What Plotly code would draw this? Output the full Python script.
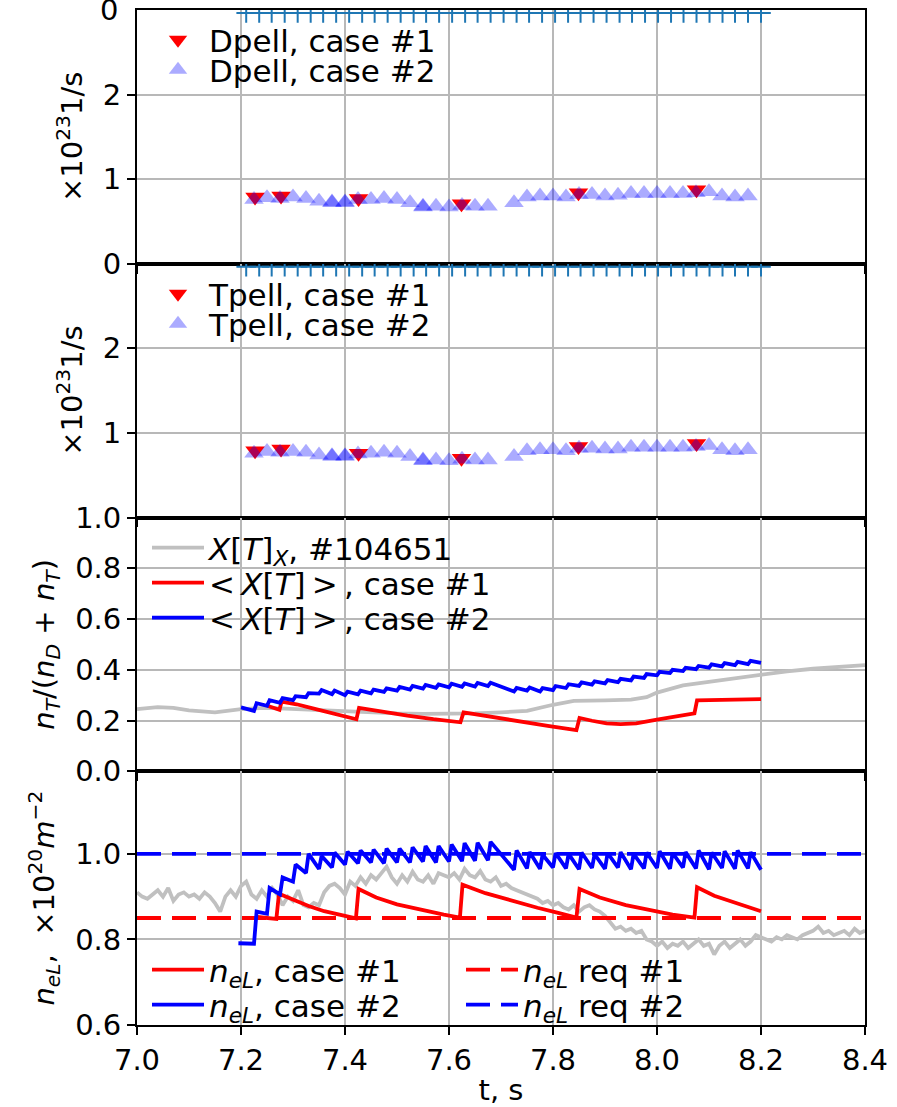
import plotly.graph_objects as go
from plotly.subplots import make_subplots

# ---------------- data ----------------
x_ticks = [7.0, 7.2, 7.4, 7.6, 7.8, 8.0, 8.2, 8.4]

# pellet rates (x10^23 1/s), case #1 (red, down-triangles)
dpell1_t = [7.227, 7.277, 7.426, 7.624, 7.849, 8.076]
dpell1_v = [0.79, 0.80, 0.77, 0.71, 0.84, 0.875]
# case #2 (blue, up-triangles)
dpell2_t = [7.225, 7.250, 7.275, 7.300, 7.325, 7.350, 7.375, 7.375, 7.400, 7.400,
            7.425, 7.450, 7.475, 7.500, 7.525, 7.550, 7.550, 7.575, 7.600, 7.625,
            7.650, 7.675, 7.725, 7.750, 7.775, 7.800, 7.825, 7.850, 7.875, 7.900,
            7.925, 7.950, 7.975, 8.000, 8.025, 8.050, 8.075, 8.100, 8.125, 8.150, 8.175]
dpell2_v = [0.76, 0.78, 0.77, 0.79, 0.77, 0.74, 0.72, 0.73, 0.72, 0.73,
            0.76, 0.76, 0.77, 0.76, 0.72, 0.67, 0.68, 0.68, 0.67, 0.69,
            0.68, 0.68, 0.72, 0.79, 0.80, 0.80, 0.79, 0.82, 0.82, 0.80,
            0.81, 0.83, 0.83, 0.83, 0.83, 0.83, 0.84, 0.85, 0.80, 0.79, 0.80]
tpell1_t = [7.227, 7.277, 7.426, 7.624, 7.849, 8.076]
tpell1_v = [0.79, 0.81, 0.76, 0.70, 0.84, 0.875]
tpell2_t = list(dpell2_t)
tpell2_v = [0.76, 0.78, 0.77, 0.78, 0.77, 0.74, 0.72, 0.73, 0.72, 0.73,
            0.75, 0.76, 0.77, 0.76, 0.72, 0.67, 0.68, 0.68, 0.67, 0.69,
            0.68, 0.68, 0.72, 0.79, 0.80, 0.80, 0.79, 0.82, 0.82, 0.81,
            0.81, 0.83, 0.83, 0.83, 0.83, 0.83, 0.84, 0.85, 0.80, 0.79, 0.80]

# off-scale pellet event markers (drawn at the top edge)
plus_t = [7.210, 7.235, 7.259, 7.284, 7.309, 7.334, 7.358, 7.383, 7.408, 7.433,
          7.457, 7.482, 7.507, 7.532, 7.556, 7.581, 7.606, 7.631, 7.655, 7.680,
          7.705, 7.730, 7.754, 7.779, 7.804, 7.829, 7.853, 7.878, 7.903, 7.928,
          7.952, 7.977, 8.002, 8.027, 8.051, 8.076, 8.101, 8.126, 8.150, 8.175, 8.200]
plus_level = 2.965

# tritium fraction
xt_exp_t = [7.00, 7.04, 7.07, 7.10, 7.15, 7.20, 7.25, 7.30, 7.35, 7.40, 7.45, 7.50,
            7.55, 7.60, 7.65, 7.70, 7.75, 7.80, 7.84, 7.90, 7.95, 7.98, 8.00, 8.05,
            8.10, 8.15, 8.20, 8.25, 8.30, 8.35, 8.40]
xt_exp_v = [0.245, 0.253, 0.250, 0.240, 0.232, 0.245, 0.250, 0.245, 0.240, 0.235,
            0.232, 0.228, 0.226, 0.226, 0.228, 0.232, 0.238, 0.262, 0.277, 0.279,
            0.282, 0.292, 0.310, 0.338, 0.352, 0.366, 0.382, 0.394, 0.404, 0.411, 0.418]

xt1_t = [7.252, 7.274, 7.278, 7.307, 7.340, 7.371, 7.400, 7.422, 7.427, 7.470, 7.520,
         7.570, 7.622, 7.628, 7.680, 7.730, 7.790, 7.845, 7.851, 7.875, 7.903, 7.930,
         7.960, 8.000, 8.040, 8.072, 8.077, 8.120, 8.160, 8.200]
xt1_v = [0.257, 0.242, 0.274, 0.264, 0.247, 0.231, 0.217, 0.205, 0.250, 0.235, 0.219,
         0.205, 0.193, 0.232, 0.214, 0.197, 0.179, 0.162, 0.210, 0.199, 0.189, 0.186,
         0.189, 0.203, 0.217, 0.228, 0.279, 0.281, 0.283, 0.284]

# case #2: pellet times with value just before / after each pellet
pel2_t = [7.225, 7.250, 7.275, 7.300, 7.325, 7.350, 7.375, 7.400, 7.425, 7.450,
          7.475, 7.500, 7.525, 7.550, 7.575, 7.600, 7.625, 7.650, 7.675, 7.725,
          7.750, 7.775, 7.800, 7.825, 7.850, 7.875, 7.900, 7.925, 7.950, 7.975,
          8.000, 8.025, 8.050, 8.075, 8.100, 8.125, 8.150, 8.175]
xt2_start = (7.200, 0.252)
xt2_pre = [0.238, 0.258, 0.270, 0.280, 0.292, 0.306, 0.304, 0.300, 0.303, 0.307,
           0.313, 0.318, 0.322, 0.326, 0.329, 0.331, 0.333, 0.334, 0.336, 0.314,
           0.318, 0.314, 0.320, 0.328, 0.336, 0.341, 0.346, 0.351, 0.358, 0.368,
           0.378, 0.387, 0.395, 0.402, 0.408, 0.413, 0.418, 0.422]
xt2_post = [0.268, 0.280, 0.288, 0.296, 0.308, 0.320, 0.318, 0.314, 0.318, 0.322,
            0.327, 0.332, 0.336, 0.340, 0.342, 0.345, 0.346, 0.348, 0.349, 0.328,
            0.330, 0.328, 0.336, 0.343, 0.350, 0.354, 0.359, 0.364, 0.373, 0.383,
            0.392, 0.400, 0.408, 0.415, 0.421, 0.426, 0.431, 0.435]
xt2_end = (8.200, 0.427)

# line-averaged density
nel_exp_t = [round(7.0 + 0.01 * i, 2) for i in range(141)]
nel_exp_v = [0.910, 0.900, 0.895, 0.905, 0.915, 0.900, 0.920, 0.890, 0.905, 0.910,
             0.900, 0.905, 0.895, 0.910, 0.900, 0.885, 0.865, 0.900, 0.915, 0.900,
             0.925, 0.935, 0.905, 0.895, 0.915, 0.900, 0.920, 0.905, 0.880, 0.900,
             0.890, 0.915, 0.880, 0.875, 0.885, 0.880, 0.910, 0.925, 0.930, 0.920,
             0.905, 0.935, 0.925, 0.945, 0.930, 0.950, 0.940, 0.955, 0.970, 0.945,
             0.930, 0.950, 0.935, 0.958, 0.940, 0.935, 0.950, 0.930, 0.955, 0.950,
             0.945, 0.955, 0.940, 0.965, 0.950, 0.945, 0.960, 0.940, 0.935, 0.945,
             0.925, 0.930, 0.920, 0.915, 0.910, 0.905, 0.900, 0.895, 0.885, 0.890,
             0.880, 0.885, 0.875, 0.870, 0.880, 0.865, 0.875, 0.880, 0.870, 0.865,
             0.855, 0.840, 0.825, 0.830, 0.820, 0.825, 0.815, 0.820, 0.800, 0.795,
             0.785, 0.795, 0.780, 0.790, 0.785, 0.795, 0.780, 0.790, 0.800, 0.785,
             0.790, 0.765, 0.785, 0.795, 0.780, 0.790, 0.800, 0.785, 0.795, 0.810,
             0.805, 0.800, 0.795, 0.805, 0.800, 0.810, 0.805, 0.800, 0.810, 0.815,
             0.820, 0.830, 0.815, 0.820, 0.810, 0.815, 0.820, 0.810, 0.825, 0.815,
             0.820]

nel1_t = [7.227, 7.268, 7.273, 7.300, 7.330, 7.360, 7.390, 7.421, 7.426, 7.460, 7.500,
          7.550, 7.590, 7.621, 7.626, 7.670, 7.720, 7.770, 7.810, 7.845, 7.851, 7.890,
          7.940, 7.990, 8.030, 8.072, 8.077, 8.110, 8.150, 8.200]
nel1_v = [0.853, 0.848, 0.907, 0.893, 0.878, 0.866, 0.857, 0.849, 0.918, 0.898, 0.882,
          0.868, 0.858, 0.851, 0.928, 0.908, 0.890, 0.874, 0.862, 0.851, 0.918, 0.898,
          0.880, 0.867, 0.858, 0.851, 0.922, 0.902, 0.885, 0.866]

nel2_start = (7.195, 0.791)
nel2_pre = [0.790, 0.860, 0.905, 0.935, 0.955, 0.965, 0.968, 0.975, 0.978, 0.980,
            0.978, 0.980, 0.980, 0.982, 0.980, 0.982, 0.983, 0.984, 0.985, 0.963,
            0.966, 0.965, 0.968, 0.966, 0.964, 0.967, 0.965, 0.968, 0.964, 0.966,
            0.967, 0.965, 0.968, 0.966, 0.964, 0.967, 0.965, 0.966]
nel2_post = [0.865, 0.920, 0.945, 0.975, 1.000, 0.995, 1.003, 1.005, 1.008, 1.010,
             1.012, 1.012, 1.015, 1.018, 1.018, 1.022, 1.025, 1.026, 1.028, 1.008,
             1.004, 0.998, 1.002, 1.000, 1.003, 0.999, 1.002, 1.004, 1.000, 1.003,
             1.006, 1.002, 1.004, 1.008, 1.003, 1.006, 1.008, 1.004]
nel2_end = (8.200, 0.963)

nel_req1 = 0.85
nel_req2 = 1.00

# ---------------- helpers ----------------
RED = "#ff0000"
BLUE = "#0000ff"
GRAY = "#c0c0c0"
TABBLUE = "#1f77b4"
GRID = "#b8b8b8"
FONT = "DejaVu Sans"
LW = 3.8
TICK_FS = 29
LEG_FS = 31

# plot area in pixels (for placing the legends)
PL, PR, PT, PB = 137, 865, 10, 1025


def px_x(p):
    return (p - PL) / (PR - PL)


def px_y(p):
    return 1 - (p - PT) / (PB - PT)


def sawtooth(start, times, pre, post, end, dt=0.005):
    xs, ys = [start[0]], [start[1]]
    for t, a, b in zip(times, pre, post):
        xs += [t, t + dt]
        ys += [a, b]
    xs.append(end[0])
    ys.append(end[1])
    return xs, ys


fig = make_subplots(rows=4, cols=1, shared_xaxes=True, vertical_spacing=0)

# one legend per entry so each row can sit where the reference has it
legend_pos = {
    "legend": (147, 40), "legend2": (147, 70),
    "legend3": (147, 294), "legend4": (147, 324),
    "legend5": (147, 548), "legend6": (147, 583), "legend7": (147, 618),
    "legend8": (147, 970), "legend9": (147, 1005),
    "legend10": (461, 970), "legend11": (461, 1005),
}

# ---- panels 1 & 2 : pellet rates ----
for row, (n1t, n1v, n2t, n2v, name, lga, lgb) in enumerate([
        (dpell1_t, dpell1_v, dpell2_t, dpell2_v, "Dpell", "legend", "legend2"),
        (tpell1_t, tpell1_v, tpell2_t, tpell2_v, "Tpell", "legend3", "legend4")], start=1):
    fig.add_trace(go.Scatter(x=plus_t, y=[plus_level] * len(plus_t), mode="markers",
                             marker=dict(symbol="cross-thin", size=14,
                                         line=dict(color=TABBLUE, width=2)),
                             showlegend=False, cliponaxis=True), row=row, col=1)
    fig.add_trace(go.Scatter(x=n1t, y=n1v, mode="markers", name=f"{name}, case #1",
                             marker=dict(symbol="triangle-down", size=17, color=RED,
                                         line=dict(width=0)),
                             legend=lga), row=row, col=1)
    fig.add_trace(go.Scatter(x=n2t, y=n2v, mode="markers", name=f"{name}, case #2",
                             marker=dict(symbol="triangle-up", size=17, color=BLUE,
                                         opacity=0.33, line=dict(width=0)),
                             legend=lgb), row=row, col=1)

# ---- panel 3 : tritium fraction ----
fig.add_trace(go.Scatter(x=xt_exp_t, y=xt_exp_v, mode="lines",
                         name="<i>X</i>[<i>T</i>]<sub><i>X</i></sub>, #104651",
                         line=dict(color=GRAY, width=LW), legend="legend5"), row=3, col=1)
fig.add_trace(go.Scatter(x=xt1_t, y=xt1_v, mode="lines",
                         name="&lt;\u2009<i>X</i>[<i>T</i>]\u2009&gt;\u2009, case #1",
                         line=dict(color=RED, width=LW), legend="legend6"), row=3, col=1)
xs2, ys2 = sawtooth(xt2_start, pel2_t, xt2_pre, xt2_post, xt2_end)
fig.add_trace(go.Scatter(x=xs2, y=ys2, mode="lines",
                         name="&lt;\u2009<i>X</i>[<i>T</i>]\u2009&gt;\u2009, case #2",
                         line=dict(color=BLUE, width=LW), legend="legend7"), row=3, col=1)

# ---- panel 4 : density ----
NEL = "<i>n</i><sub><i>eL</i></sub>"
fig.add_trace(go.Scatter(x=nel_exp_t, y=nel_exp_v, mode="lines", showlegend=False,
                         line=dict(color=GRAY, width=LW)), row=4, col=1)
fig.add_trace(go.Scatter(x=[7.0, 8.4], y=[nel_req1, nel_req1], mode="lines",
                         name=f"{NEL} req #1", legend="legend10",
                         line=dict(color=RED, width=LW, dash="24px,11px")), row=4, col=1)
fig.add_trace(go.Scatter(x=[7.0, 8.4], y=[nel_req2, nel_req2], mode="lines",
                         name=f"{NEL} req #2", legend="legend11",
                         line=dict(color=BLUE, width=LW, dash="24px,11px")), row=4, col=1)
fig.add_trace(go.Scatter(x=nel1_t, y=nel1_v, mode="lines", name=f"{NEL}, case #1",
                         legend="legend8", line=dict(color=RED, width=LW)), row=4, col=1)
xs4, ys4 = sawtooth(nel2_start, pel2_t, nel2_pre, nel2_post, nel2_end)
fig.add_trace(go.Scatter(x=xs4, y=ys4, mode="lines", name=f"{NEL}, case #2",
                         legend="legend9", line=dict(color=BLUE, width=LW)), row=4, col=1)

# ---------------- axes ----------------
for r in range(1, 5):
    fig.update_xaxes(row=r, col=1, range=[7.0, 8.4], tickvals=x_ticks,
                     ticktext=[f"{v:.1f}" for v in x_ticks],
                     showgrid=True, gridcolor=GRID, gridwidth=1.5,
                     showline=True, linecolor="black", linewidth=1.8, mirror=True,
                     ticks="outside", ticklen=8, tickwidth=1.5, tickcolor="black",
                     zeroline=False, showticklabels=(r == 4), automargin=False,
                     tickfont=dict(size=TICK_FS, color="black"))

common_y = dict(showgrid=True, gridcolor=GRID, gridwidth=1.5, showline=True,
                linecolor="black", linewidth=1.8, mirror=True, ticks="outside",
                ticklen=8, tickwidth=1.5, tickcolor="black", zeroline=False,
                automargin=False,
                tickfont=dict(size=TICK_FS, color="black"),
                title_font=dict(size=TICK_FS, color="black"),
                title_standoff=12)
fig.update_yaxes(row=1, col=1, range=[0, 3], tickvals=[0, 1, 2], ticktext=["0", "1", "2"],
                 title_text="×10<sup>23</sup>1/s", **common_y)
# the bottom "0" of this panel coincides with the last digit of "1.0" below it
fig.update_yaxes(row=2, col=1, range=[0, 3], tickvals=[0, 1, 2], ticktext=["", "1", "2"],
                 title_text="×10<sup>23</sup>1/s", **common_y)
fig.update_yaxes(row=3, col=1, range=[0, 1.0], tickvals=[0, 0.2, 0.4, 0.6, 0.8, 1.0],
                 ticktext=["0.0", "0.2", "0.4", "0.6", "0.8", "1.0"],
                 title_text="<i>n</i><sub><i>T</i></sub>/(<i>n</i><sub><i>D</i></sub> + <i>n</i><sub><i>T</i></sub>)",
                 **common_y)
fig.update_yaxes(row=4, col=1, range=[0.6, 1.193], tickvals=[0.6, 0.8, 1.0],
                 ticktext=["0.6", "0.8", "1.0"],
                 title_text="<i>n</i><sub><i>eL</i></sub>,  ×10<sup>20</sup><i>m</i><sup>−2</sup>",
                 **common_y)
fig.update_xaxes(row=4, col=1, title_text="t, s", title_font=dict(size=TICK_FS, color="black"),
                 title_standoff=8)

legends = {}
for key, (lx, ly) in legend_pos.items():
    legends[key] = dict(x=px_x(lx), y=px_y(ly), xanchor="left", yanchor="middle",
                        xref="paper", yref="paper", bgcolor="rgba(0,0,0,0)",
                        borderwidth=0, font=dict(size=LEG_FS, color="black"),
                        itemwidth=52)

fig.update_layout(
    width=897, height=1107,
    margin=dict(l=PL, r=897 - PR, t=PT, b=1107 - PB),
    paper_bgcolor="white", plot_bgcolor="white",
    font=dict(family=FONT, size=TICK_FS, color="black"),
    annotations=[dict(text="0", xref="paper", yref="paper", x=px_x(120), y=1.0,
                      xanchor="right", yanchor="middle", showarrow=False,
                      font=dict(size=TICK_FS, color="black"))],
    **legends,
)

fig.write_html("out.html")
